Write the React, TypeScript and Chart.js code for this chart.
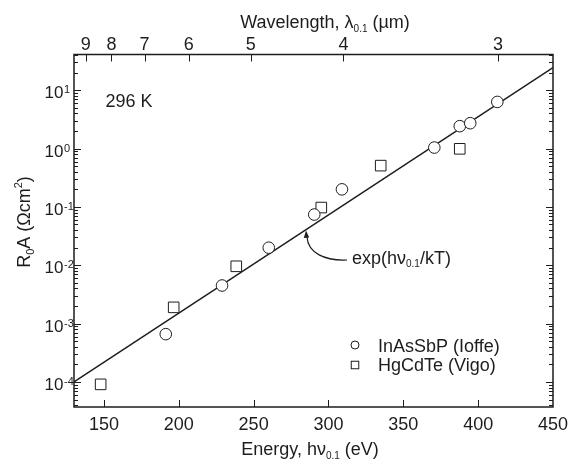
import { useEffect, useRef } from 'react';
import { Chart, registerables } from 'chart.js';

Chart.register(...registerables);

const FONT = "'Liberation Sans', Arial, Helvetica, sans-serif";
const INK = '#1d1d1d';

// Measured R0A products vs. cutoff photon energy (meV, labelled eV on the axis)
const inAsSbPEnergy = [191.3, 228.9, 260.1, 290.5, 309.0, 370.7, 387.7, 394.7, 412.8];
const inAsSbPR0A = [6.6e-4, 4.5e-3, 0.020, 0.074, 0.20, 1.04, 2.42, 2.72, 6.3];

const hgCdTeEnergy = [147.8, 196.6, 238.4, 295.2, 334.9, 387.7];
const hgCdTeR0A = [9.1e-5, 1.9e-3, 9.6e-3, 0.0975, 0.51, 0.99];

// exp(hv/kT) reference line at 296 K
const fitEnergy = [130, 450];
const fitR0A = [1.0e-4, 24.5];

// Axis definitions
const energyMin = 130;
const energyMax = 450;
const energyStep = 50;
const r0aMin = Math.pow(10, -4.429);
const r0aMax = Math.pow(10, 1.612);
const wavelengthTicks = [9, 8, 7, 6, 5, 4, 3];
const decadeExponents = [-5, -4, -3, -2, -1, 0, 1];

type Part = { text: string; size: number; dy?: number };

function partsWidth(ctx: CanvasRenderingContext2D, parts: Part[]) {
  let w = 0;
  for (const p of parts) {
    ctx.font = `${p.size}px ${FONT}`;
    w += ctx.measureText(p.text).width;
  }
  return w;
}

function drawParts(
  ctx: CanvasRenderingContext2D,
  parts: Part[],
  x: number,
  y: number,
  align: 'left' | 'center' | 'right' = 'left'
) {
  const total = partsWidth(ctx, parts);
  let cx = align === 'left' ? x : align === 'center' ? x - total / 2 : x - total;
  ctx.textAlign = 'left';
  ctx.textBaseline = 'alphabetic';
  for (const p of parts) {
    ctx.font = `${p.size}px ${FONT}`;
    ctx.fillText(p.text, cx, y + (p.dy || 0));
    cx += ctx.measureText(p.text).width;
  }
}

function buildLogTicks() {
  const ticks: { value: number; major: boolean }[] = [];
  for (const d of decadeExponents) {
    for (let m = 1; m <= 9; m++) {
      const v = m * Math.pow(10, d);
      if (v >= r0aMin && v <= r0aMax) ticks.push({ value: v, major: m === 1 });
    }
  }
  return ticks;
}

const axesPlugin = {
  id: 'axesDecor',
  afterDraw(chart: any) {
    const { ctx, chartArea: a, scales } = chart;
    const xs = scales.x;
    const xt = scales.xTop;
    const ys = scales.y;
    ctx.save();
    ctx.fillStyle = INK;
    ctx.strokeStyle = INK;

    // inward tick marks
    ctx.lineWidth = 1;
    ctx.beginPath();
    for (const t of xs.ticks) {
      const px = Math.round(xs.getPixelForValue(t.value)) + 0.5;
      if (t.value <= energyMin || t.value >= energyMax) continue;
      ctx.moveTo(px, a.bottom);
      ctx.lineTo(px, a.bottom - 7);
    }
    for (const t of xt.ticks) {
      const px = Math.round(xt.getPixelForValue(t.value)) + 0.5;
      ctx.moveTo(px, a.top);
      ctx.lineTo(px, a.top + 7);
    }
    for (const t of ys.ticks) {
      const py = Math.round(ys.getPixelForValue(t.value)) + 0.5;
      const len = t.major ? 7 : 4;
      ctx.moveTo(a.left, py);
      ctx.lineTo(a.left + len, py);
      ctx.moveTo(a.right, py);
      ctx.lineTo(a.right - len, py);
    }
    ctx.stroke();

    // frame
    ctx.lineWidth = 1.5;
    ctx.strokeRect(a.left, a.top, a.right - a.left, a.bottom - a.top);

    // bottom tick labels
    ctx.font = `18px ${FONT}`;
    ctx.textAlign = 'center';
    ctx.textBaseline = 'alphabetic';
    for (const t of xs.ticks) {
      ctx.fillText(String(t.value), xs.getPixelForValue(t.value), a.bottom + 22.5);
    }
    // top tick labels (wavelength, µm)
    xt.ticks.forEach((t: any, i: number) => {
      ctx.fillText(String(wavelengthTicks[i]), xt.getPixelForValue(t.value), a.top - 5);
    });

    // left decade labels 10^n
    for (const t of ys.ticks) {
      if (!t.major) continue;
      const py = ys.getPixelForValue(t.value);
      const exp = Math.round(Math.log10(t.value));
      ctx.font = `17px ${FONT}`;
      ctx.textAlign = 'right';
      ctx.fillText('10', a.left - 10.5, py + 8);
      ctx.font = `11px ${FONT}`;
      ctx.textAlign = 'left';
      ctx.fillText(exp < 0 ? `-${-exp}` : String(exp), a.left - 10, py + 3);
    }

    // axis titles
    drawParts(
      ctx,
      [
        { text: 'Energy, hν', size: 18 },
        { text: '0.1', size: 10, dy: 4 },
        { text: ' (eV)', size: 18 },
      ],
      310,
      455,
      'center'
    );
    drawParts(
      ctx,
      [
        { text: 'Wavelength, λ', size: 18 },
        { text: '0.1', size: 10, dy: 4 },
        { text: ' (µm)', size: 18 },
      ],
      325,
      28,
      'center'
    );
    ctx.save();
    ctx.translate(30, 222);
    ctx.rotate(-Math.PI / 2);
    drawParts(
      ctx,
      [
        { text: 'R', size: 18 },
        { text: '0', size: 11, dy: 4 },
        { text: 'A (Ωcm', size: 18 },
        { text: '2', size: 11, dy: -8 },
        { text: ')', size: 18 },
      ],
      0,
      0,
      'center'
    );
    ctx.restore();

    // temperature note
    drawParts(ctx, [{ text: '296 K', size: 18 }], 105.5, 107.3);

    // exp(hv/kT) annotation with curved arrow
    drawParts(
      ctx,
      [
        { text: 'exp(hν', size: 18 },
        { text: '0.1', size: 10, dy: 3 },
        { text: '/kT)', size: 18 },
      ],
      352,
      263.5
    );
    ctx.lineWidth = 1.2;
    ctx.beginPath();
    ctx.moveTo(347, 260);
    ctx.bezierCurveTo(325, 261, 308, 253, 307, 237);
    ctx.stroke();
    ctx.beginPath();
    ctx.moveTo(306, 230.5);
    ctx.lineTo(303.8, 238);
    ctx.lineTo(309.2, 237.4);
    ctx.closePath();
    ctx.fill();

    // legend
    ctx.lineWidth = 1;
    ctx.fillStyle = '#ffffff';
    ctx.beginPath();
    ctx.arc(355, 345, 4, 0, Math.PI * 2);
    ctx.fill();
    ctx.stroke();
    ctx.fillRect(351.25, 361.25, 7.5, 7.5);
    ctx.strokeRect(351.25, 361.25, 7.5, 7.5);
    ctx.fillStyle = INK;
    drawParts(ctx, [{ text: 'InAsSbP (Ioffe)', size: 18 }], 378, 351.5);
    drawParts(ctx, [{ text: 'HgCdTe (Vigo)', size: 18 }], 378, 371);

    ctx.restore();
  },
};

const hiddenScale = {
  ticks: { display: false },
  grid: { display: false, drawTicks: false },
  border: { display: false },
  title: { display: false },
};

export default function App() {
  const canvasRef = useRef<HTMLCanvasElement | null>(null);

  useEffect(() => {
    const canvas = canvasRef.current;
    if (!canvas) return;
    const chart = new Chart(canvas, {
      type: 'scatter',
      data: {
        datasets: [
          {
            label: 'InAsSbP (Ioffe)',
            data: inAsSbPEnergy.map((e, i) => ({ x: e, y: inAsSbPR0A[i] })),
            pointStyle: 'circle',
            pointRadius: 5.8,
            pointBackgroundColor: '#ffffff',
            pointBorderColor: INK,
            pointBorderWidth: 1,
            xAxisID: 'x',
            yAxisID: 'y',
          },
          {
            label: 'HgCdTe (Vigo)',
            data: hgCdTeEnergy.map((e, i) => ({ x: e, y: hgCdTeR0A[i] })),
            pointStyle: 'rect',
            pointRadius: 7.5,
            pointBackgroundColor: '#ffffff',
            pointBorderColor: INK,
            pointBorderWidth: 1,
            xAxisID: 'x',
            yAxisID: 'y',
          },
          {
            type: 'line',
            label: 'exp(hv/kT)',
            data: fitEnergy.map((e, i) => ({ x: e, y: fitR0A[i] })),
            borderColor: INK,
            borderWidth: 1.5,
            pointRadius: 0,
            fill: false,
            tension: 0,
            xAxisID: 'x',
            yAxisID: 'y',
          },
        ] as any,
      },
      options: {
        responsive: false,
        animation: false,
        devicePixelRatio: 1,
        events: [],
        layout: { padding: 0 },
        plugins: { legend: { display: false }, tooltip: { enabled: false } },
        scales: {
          x: {
            type: 'linear',
            position: 'bottom',
            min: energyMin,
            max: energyMax,
            ...hiddenScale,
            ticks: { display: false, stepSize: energyStep, includeBounds: false },
            afterFit: (s: any) => {
              s.height = 55;
            },
          },
          xTop: {
            type: 'linear',
            position: 'top',
            min: energyMin,
            max: energyMax,
            ...hiddenScale,
            afterBuildTicks: (s: any) => {
              s.ticks = wavelengthTicks.map((l) => ({ value: 1240 / l }));
            },
            afterFit: (s: any) => {
              s.height = 54.5;
            },
          },
          y: {
            type: 'logarithmic',
            position: 'left',
            min: r0aMin,
            max: r0aMax,
            ...hiddenScale,
            afterBuildTicks: (s: any) => {
              s.ticks = buildLogTicks();
            },
            afterFit: (s: any) => {
              s.width = 74;
            },
          },
          yRight: {
            type: 'logarithmic',
            position: 'right',
            min: r0aMin,
            max: r0aMax,
            ...hiddenScale,
            afterFit: (s: any) => {
              s.width = 18;
            },
          },
        },
      } as any,
      plugins: [axesPlugin],
    });
    return () => chart.destroy();
  }, []);

  return (
    <div style={{ position: 'fixed', left: 0, top: 0, width: 571, height: 462, background: '#fff' }}>
      <canvas ref={canvasRef} width={571} height={462} style={{ display: 'block' }} />
    </div>
  );
}
